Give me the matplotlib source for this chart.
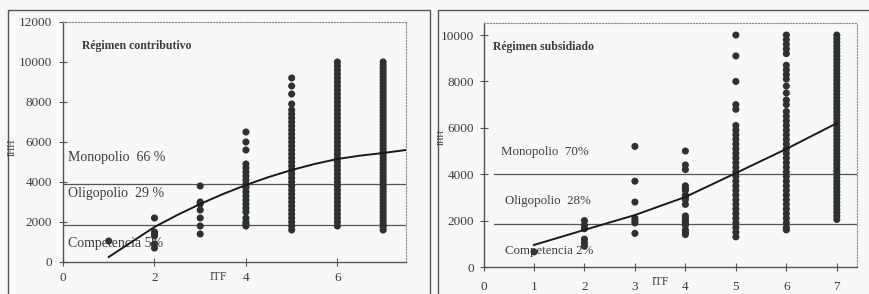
import matplotlib
matplotlib.use("Agg")
import matplotlib.pyplot as plt
from matplotlib.patches import Rectangle

plt.rcParams['font.family'] = ['Liberation Serif', 'DejaVu Serif']

ink = '#3a3d3b'
dots = '#2c3230'

# ---- Régimen contributivo (left) ----
left_cols = {
    1: [1050],
    2: [2200, 1500, 1400, 1300, 900, 700],
    3: [3800, 3000, 2900, 2600, 2200, 1800, 1400],
    4: [6500, 6000, 5600, 4900, 4700, 4500, 4300, 4100, 3900, 3800, 3700, 3500,
        3300, 3100, 2900, 2700, 2500, 2200, 2000, 1900, 1800],
    5: [9200, 8800, 8400, 7900, 7600, 7400, 7200, 7000, 6800, 6600, 6400, 6200,
        6000, 5800, 5600, 5400, 5200, 5000, 4800, 4600, 4400, 4200, 4000, 3800,
        3600, 3400, 3200, 3000, 2800, 2600, 2400, 2200, 2000, 1800, 1600],
    6: [10000, 9800, 9600, 9400, 9200, 9000, 8800, 8600, 8400, 8200, 8000, 7800,
        7600, 7400, 7200, 7000, 6800, 6600, 6400, 6200, 6000, 5800, 5600, 5400,
        5200, 5000, 4800, 4600, 4400, 4200, 4000, 3800, 3600, 3400, 3200, 3000,
        2800, 2600, 2400, 2200, 2000, 1800],
    7: [10000, 9850, 9700, 9550, 9400, 9250, 9100, 8950, 8800, 8650, 8500, 8350,
        8200, 8050, 7900, 7750, 7600, 7450, 7300, 7150, 7000, 6850, 6700, 6550,
        6400, 6250, 6100, 5950, 5800, 5650, 5500, 5350, 5200, 5050, 4900, 4750,
        4600, 4450, 4300, 4150, 4000, 3850, 3700, 3550, 3400, 3250, 3100, 2950,
        2800, 2650, 2500, 2350, 2200, 2050, 1900, 1750, 1600],
}
left_fit_x = [1, 1.5, 2, 2.5, 3, 3.5, 4, 4.5, 5, 5.5, 6, 6.5, 7, 7.5]
left_fit_y = [250, 1000, 1750, 2350, 2900, 3400, 3850, 4250, 4600, 4900, 5150, 5320, 5450, 5600]
left_bounds = [3900, 1850]
left_labels = [("Monopolio  66 %", 5200), ("Oligopolio  29 %", 3400), ("Competencia 5%", 950)]

# ---- Régimen subsidiado (right) ----
right_cols = {
    1: [650],
    2: [2000, 1800, 1650, 1200, 1050, 900],
    3: [5200, 3700, 2800, 2100, 2000, 1900, 1450],
    4: [5000, 4400, 4200, 3500, 3400, 3300, 3100, 3000, 2900, 2700, 2200, 2100,
        2000, 1900, 1800, 1600, 1500, 1400],
    5: [10000, 9100, 8000, 7000, 6800, 6100, 5900, 5700, 5500, 5300, 5100, 4900,
        4700, 4500, 4300, 4100, 3900, 3700, 3500, 3300, 3100, 2900, 2700, 2500,
        2300, 2100, 1900, 1700, 1500, 1300],
    6: [10000, 9800, 9600, 9400, 9200, 8700, 8500, 8300, 8100, 7800, 7500, 7200,
        7000, 6700, 6500, 6300, 6100, 5900, 5700, 5500, 5300, 5100, 4900, 4700,
        4500, 4300, 4100, 3900, 3700, 3500, 3300, 3100, 2900, 2700, 2500, 2300,
        2100, 1900, 1700, 1600],
    7: [10000, 9850, 9700, 9550, 9400, 9250, 9100, 8950, 8800, 8650, 8500, 8350,
        8200, 8050, 7900, 7750, 7600, 7450, 7300, 7150, 7000, 6850, 6700, 6550,
        6400, 6250, 6100, 5950, 5800, 5650, 5500, 5350, 5200, 5050, 4900, 4750,
        4600, 4450, 4300, 4150, 4000, 3850, 3700, 3550, 3400, 3250, 3100, 2950,
        2800, 2650, 2500, 2350, 2200, 2050],
}
right_fit_x = [1, 2, 3, 4, 5, 6, 7]
right_fit_y = [950, 1600, 2240, 3020, 4050, 5090, 6200]
right_bounds = [4000, 1850]
right_labels = [("Monopolio  70%", 4960, 0.35), ("Oligopolio  28%", 2850, 0.43), ("Competencia 2%", 700, 0.43)]

W, H = 869, 294
fig = plt.figure(figsize=(W / 100, H / 100), dpi=100)
fig.patch.set_facecolor('#f8f8f6')

# panel frames
fig.add_artist(Rectangle((8 / W, -0.1), 422 / W, (H - 10) / H + 0.1, transform=fig.transFigure,
                         fill=False, edgecolor='#555', linewidth=1.0))
fig.add_artist(Rectangle((438 / W, -0.1), 0.6, (H - 10) / H + 0.1, transform=fig.transFigure,
                         fill=False, edgecolor='#555', linewidth=1.0))

ax1 = fig.add_axes([63 / W, (H - 262) / H, 343 / W, (262 - 22) / H])
ax2 = fig.add_axes([483.5 / W, (H - 267) / H, 373.5 / W, (267 - 23) / H])


def style(ax):
    ax.set_facecolor('none')
    for s in ['top', 'right']:
        ax.spines[s].set_linestyle(':')
        ax.spines[s].set_color('#888')
        ax.spines[s].set_linewidth(0.8)
    for s in ['bottom', 'left']:
        ax.spines[s].set_color('#555')
        ax.spines[s].set_linewidth(1.0)
    ax.tick_params(direction='inout', length=6, width=0.8, colors='#555',
                   labelcolor=ink, labelsize=9.5)


for ax, cols in [(ax1, left_cols), (ax2, right_cols)]:
    for itf, vals in cols.items():
        ax.scatter([itf] * len(vals), vals, s=26, color=dots, edgecolor='none', zorder=3)

ax1.plot(left_fit_x, left_fit_y, color='#1a1a1a', lw=1.4, zorder=4)
for b in left_bounds:
    ax1.plot([0, 7.5], [b, b], color='#555', lw=0.9, zorder=2)
ax1.set_xlim(0, 7.5)
ax1.set_ylim(0, 12000)
ax1.set_xticks([0, 2, 4, 6])
ax1.set_yticks(range(0, 12001, 2000))
style(ax1)
ax1.tick_params(axis='x', pad=4)
ax1.tick_params(axis='y', pad=5)
ax1.text(0.41, 10800, "Régimen contributivo", fontsize=8.5, fontweight='bold', color=ink, va='center')
for txt, y in left_labels:
    ax1.text(0.11, y, txt, fontsize=10, color=ink, va='center')

ax2.plot(right_fit_x, right_fit_y, color='#1a1a1a', lw=1.4, zorder=4)
for b in right_bounds:
    ax2.plot([0.2, 7.4], [b, b], color='#555', lw=0.9, zorder=2)
ax2.set_xlim(0, 7.4)
ax2.set_ylim(0, 10520)
ax2.set_xticks(range(0, 8))
ax2.set_yticks(range(0, 10001, 2000))
style(ax2)
ax2.tick_params(axis='x', pad=7)
ax2.tick_params(axis='y', pad=4)
ax2.text(0.19, 9480, "Régimen subsidiado", fontsize=8.5, fontweight='bold', color=ink, va='center')
for txt, y, x in right_labels:
    ax2.text(x, y, txt, fontsize=9.3, color=ink, va='center')

# axis titles
fig.text(12 / W, 1 - 147 / H, "IHH", rotation=90, fontsize=7, color=ink, ha='center', va='center')
fig.text(218 / W, 1 - 277 / H, "ITF", fontsize=8.5, color=ink, ha='center', va='center')
fig.text(442 / W, 1 - 137 / H, "IHH", rotation=90, fontsize=6.5, color=ink, ha='center', va='center')
fig.text(660 / W, 1 - 282 / H, "ITF", fontsize=8.5, color=ink, ha='center', va='center')

fig.savefig("out.png", dpi=100, facecolor=fig.get_facecolor())
